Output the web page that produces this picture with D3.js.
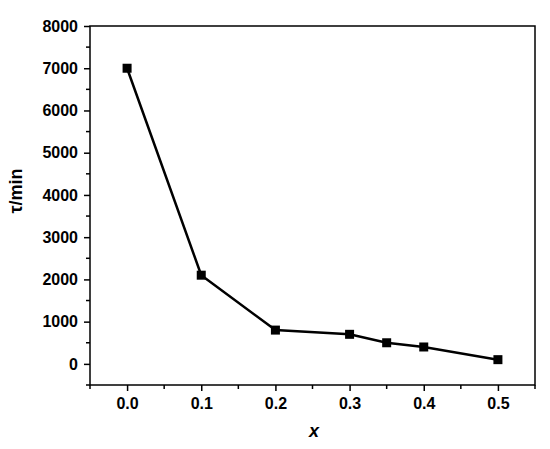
<!DOCTYPE html>
<html><head><meta charset="utf-8">
<script src="https://cdn.jsdelivr.net/npm/d3@7"></script>
<style>body{margin:0;background:#fff}text{font-family:"Liberation Sans",Arial,sans-serif;}</style>
</head><body>
<svg id="c" width="550" height="449"></svg>
<script>
const xValues = [0.0, 0.1, 0.2, 0.3, 0.35, 0.4, 0.5];
const tauValues = [7000, 2100, 800, 700, 500, 400, 100];
const xTicks = [0.0, 0.1, 0.2, 0.3, 0.4, 0.5];
const yTicks = [0, 1000, 2000, 3000, 4000, 5000, 6000, 7000, 8000];
const xLabel = "x";
const yLabel = "τ/min";

const svg = d3.select("#c");
const L = 90, R = 535, T = 26, B = 385;
const x = d3.scaleLinear().domain([-0.05, 0.55]).range([L, R]);
const y = d3.scaleLinear().domain([-500, 8000]).range([B, T]);

// frame
svg.append("rect").attr("x", L).attr("y", T).attr("width", R - L).attr("height", B - T)
  .attr("fill", "none").attr("stroke", "#000").attr("stroke-width", 1.5);

// minor ticks
const xMinor = d3.range(-0.05, 0.551, 0.05).filter(v => !xTicks.some(t => Math.abs(t - v) < 1e-6));
const yMinor = d3.range(-500, 8001, 500).filter(v => !yTicks.includes(v));

const xAxis = d3.axisBottom(x).tickValues(xTicks).tickFormat(d3.format(".1f")).tickSize(6).tickSizeOuter(0);
const gx = svg.append("g").attr("transform", `translate(0,${B})`).call(xAxis);
gx.select(".domain").remove();
gx.selectAll("line").attr("stroke-width", 1.5);
gx.selectAll("text").attr("font-size", 16).attr("font-weight", "bold").attr("y", 13).attr("dy", "0.71em");
svg.append("g").selectAll("line").data(xMinor).join("line")
  .attr("x1", d => x(d)).attr("x2", d => x(d)).attr("y1", B).attr("y2", B + 4)
  .attr("stroke", "#000").attr("stroke-width", 1.5);

const yAxis = d3.axisLeft(y).tickValues(yTicks).tickFormat(d3.format("d")).tickSize(6).tickSizeOuter(0);
const gy = svg.append("g").attr("transform", `translate(${L},0)`).call(yAxis);
gy.select(".domain").remove();
gy.selectAll("line").attr("stroke-width", 1.5);
gy.selectAll("text").attr("font-size", 16).attr("font-weight", "bold").attr("x", -12);
svg.append("g").selectAll("line").data(yMinor).join("line")
  .attr("x1", L - 4).attr("x2", L).attr("y1", d => y(d)).attr("y2", d => y(d))
  .attr("stroke", "#000").attr("stroke-width", 1.5);

// line
const pts = xValues.map((v, i) => [v, tauValues[i]]);
svg.append("path").datum(pts)
  .attr("d", d3.line().x(d => x(d[0])).y(d => y(d[1])))
  .attr("fill", "none").attr("stroke", "#000").attr("stroke-width", 2.5);
svg.append("g").selectAll("rect").data(pts).join("rect")
  .attr("x", d => x(d[0]) - 4.5).attr("y", d => y(d[1]) - 4.5)
  .attr("width", 9).attr("height", 9).attr("fill", "#000");

// labels
svg.append("text").attr("x", 314).attr("y", 437).attr("text-anchor", "middle")
  .attr("font-size", 18).attr("font-weight", "bold").attr("font-style", "italic").text(xLabel);
svg.append("text").attr("transform", `translate(22,191) rotate(-90)`)
  .attr("text-anchor", "middle").attr("font-size", 18).attr("font-weight", "bold").text(yLabel);
</script>
</body></html>
